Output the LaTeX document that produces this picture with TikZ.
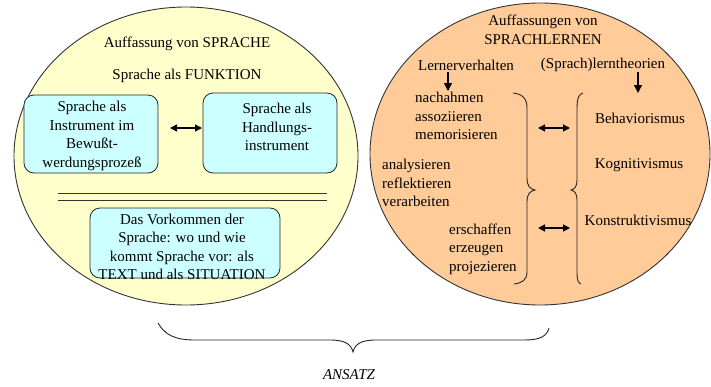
\documentclass[tikz,border=0pt]{standalone}
\usepackage{fontspec}
\setmainfont{Liberation Serif}
\usetikzlibrary{shapes.geometric,arrows.meta}
\definecolor{langyellow}{HTML}{FFFFCC}
\definecolor{learnpeach}{HTML}{FFCC99}
\definecolor{boxcyan}{HTML}{CCFFFF}
\begin{document}
\begin{tikzpicture}[x=1pt,y=-1pt,
  txt/.style={font=\fontsize{15}{18.5}\selectfont, inner sep=0pt},
  bubble/.style={ellipse, draw=black!80, line width=0.9pt, inner sep=0pt},
  cbox/.style={draw=black!85, fill=boxcyan, rounded corners=10pt, line width=0.8pt, inner sep=0pt},
  dbl/.style={{Triangle[length=7pt,width=7pt]}-{Triangle[length=7pt,width=7pt]}, line width=1.3pt},
  down/.style={-{Triangle[length=8pt,width=8pt]}, line width=1.3pt},
  brace/.style={line width=0.9pt, draw=black!85}
]
\useasboundingbox (0,0) rectangle (711,386);

% ellipses
\node[bubble, fill=langyellow, minimum width=344pt, minimum height=298pt] (lang) at (186,156) {};
\node[bubble, fill=learnpeach, minimum width=340pt, minimum height=302pt] (learn) at (540,154) {};

% left side
\node[txt] (t1) at (187,44) {Auffassung von SPRACHE};
\node[txt] (t2) at (187,76) {Sprache als FUNKTION};

\node[cbox, minimum width=134pt, minimum height=78pt] (b1) at (91,134) {};
\node[cbox, minimum width=134pt, minimum height=80pt] (b2) at (270,133) {};
\node[cbox, minimum width=190pt, minimum height=70pt] (b3) at (185,243) {};

\node[txt, align=center] (b1t) at (92,136) {Sprache als\\Instrument im\\Bewußt-\\werdungsprozeß};
\node[txt, align=center] (b2t) at (277,127) {Sprache als\\Handlungs-\\instrument};
\node[txt, align=center] (b3t) at (182,247) {Das Vorkommen der\\Sprache: wo und wie\\kommt Sprache vor: als\\TEXT und als SITUATION};

\coordinate (fa) at (170,128);
\coordinate (fb) at (202,128);
\draw[dbl] (fa) -- (fb);

\draw[line width=0.8pt, black!80] (58,193) -- (327,193);
\draw[line width=0.8pt, black!80] (58,200) -- (327,200);

% right side
\node[txt, align=center] (r1) at (543,30) {Auffassungen von\\SPRACHLERNEN};
\node[txt] (lv) at (466,65) {Lernerverhalten};
\node[txt] (lt) at (603,65) {(Sprach)lerntheorien};

\coordinate (lvA) at (448,72);
\coordinate (lvB) at (448,91);
\coordinate (ltA) at (638,72);
\coordinate (ltB) at (638,93);
\draw[down] (lvA) -- (lvB);
\draw[down] (ltA) -- (ltB);

\node[txt, align=left, anchor=west] (g1) at (415,116) {nachahmen\\assoziieren\\memorisieren};
\node[txt, align=left, anchor=west] (g2) at (382,183) {analysieren\\reflektieren\\verarbeiten};
\node[txt, align=left, anchor=west] (g3) at (449,249) {erschaffen\\erzeugen\\projezieren};

\node[txt] (th1) at (640,118) {Behaviorismus};
\node[txt] (th2) at (639,165) {Kognitivismus};
\node[txt] (th3) at (638,220) {Konstruktivismus};

\coordinate (ua) at (538,128);
\coordinate (ub) at (570,128);
\coordinate (la) at (538,228);
\coordinate (lb) at (570,228);
\draw[dbl] (ua) -- (ub);
\draw[dbl] (la) -- (lb);

% braces
\draw[brace] (513,93) .. controls (522,94) and (527,98) .. (527,108) -- (527,178)
  .. controls (527,186) and (530,189) .. (535,190)
  .. controls (530,191) and (527,194) .. (527,202) -- (527,272)
  .. controls (527,280) and (522,283) .. (514,284);
\draw[brace] (583,93) .. controls (579,94) and (577,98) .. (577,108) -- (577,180)
  .. controls (577,186) and (575,189) .. (571,190)
  .. controls (575,191) and (577,194) .. (577,200) -- (577,272)
  .. controls (577,280) and (578,283) .. (581,284);

\draw[brace] (158,323) .. controls (165,335) and (175,340) .. (195,340) -- (330,340)
  .. controls (345,340) and (351,344) .. (353,352)
  .. controls (355,344) and (361,340) .. (376,340) -- (525,340)
  .. controls (540,340) and (547,336) .. (549,328);

\node[txt, font=\fontsize{15}{18.5}\selectfont\itshape] (ans) at (349,375) {ANSATZ};
\end{tikzpicture}
\end{document}
